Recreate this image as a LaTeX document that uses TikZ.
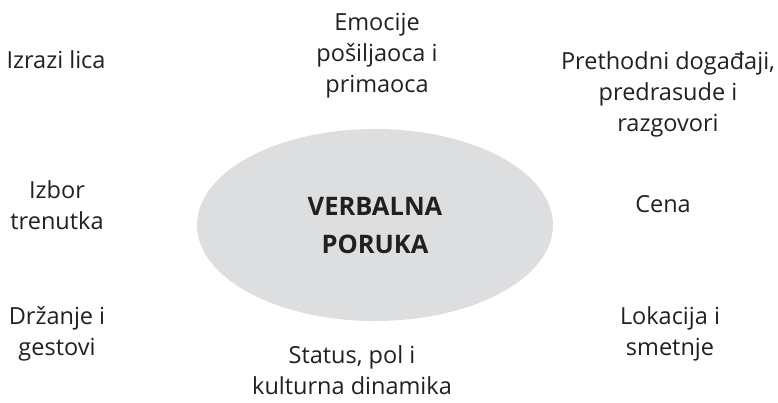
\documentclass[tikz,border=0pt]{standalone}
\usepackage{fontspec}
\setmainfont{Open Sans}
\usetikzlibrary{positioning,shapes.geometric}
\definecolor{msggray}{RGB}{221,222,224}
\definecolor{ink}{RGB}{35,31,32}

\begin{document}
\begin{tikzpicture}[
    on grid,
    cue/.style={align=center, text=ink, inner sep=0pt, font=\fontsize{23.5}{31}\selectfont},
  ]
  \useasboundingbox (0pt,0pt) rectangle (778pt,-402pt);
  \node [ellipse, fill=msggray, minimum width=356pt, minimum height=192pt, inner sep=0pt,
    align=center, text=ink, font=\fontsize{25.5}{38}\selectfont\bfseries]
    (poruka) at (375pt,-225pt) {VERBALNA\\PORUKA};
  \node [cue, above right=169pt and 2pt of poruka] (emocije) {Emocije\\pošiljaoca i\\primaoca};
  \node [cue, above left=165pt and 319pt of poruka] (izrazi) {Izrazi lica};
  \node [cue, above right=131pt and 293pt of poruka] (prethodni) {Prethodni događaji,\\predrasude i\\razgovori};
  \node [cue, above left=20pt and 318pt of poruka] (izbor) {Izbor\\trenutka};
  \node [cue, above right=21pt and 288pt of poruka] (cena) {Cena};
  \node [cue, below left=109pt and 318pt of poruka] (drzanje) {Držanje i\\gestovi};
  \node [cue, below right=109pt and 295pt of poruka] (lokacija) {Lokacija i\\smetnje};
  \node [cue, below left=145pt and 23pt of poruka] (status) {Status, pol i\\kulturna dinamika};
\end{tikzpicture}
\end{document}
